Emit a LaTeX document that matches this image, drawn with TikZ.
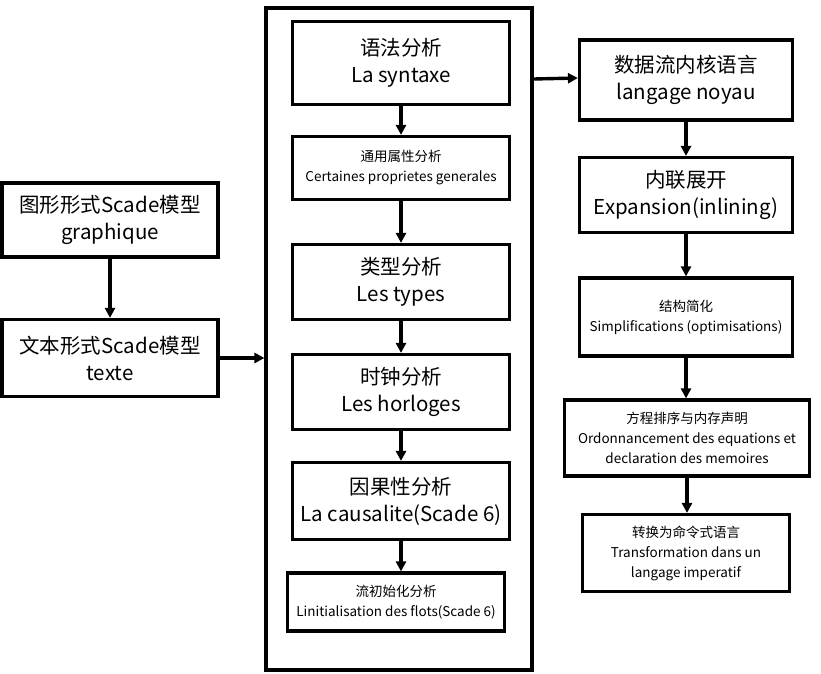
\documentclass[tikz,border=0pt]{standalone}
\usepackage{fontspec}
\setmainfont{Noto Sans CJK SC}
\usetikzlibrary{arrows.meta}
\tikzset{
 bx/.style={draw,line width=3.2pt,align=center,inner sep=0pt},
 big/.style={font=\fontsize{20.5}{27}\selectfont},
 sm/.style={font=\fontsize{13.5}{20}\selectfont},
 ar/.style={line width=3.4pt,-{Triangle[length=10pt,width=10pt]}}
}
\begin{document}
\begin{tikzpicture}[x=1pt,y=-1pt]
\useasboundingbox (0,0) rectangle (821,673);
\node[bx,big,minimum width=216,minimum height=74] (l1) at (110,220) {图形形式Scade模型\\graphique};
\node[bx,big,minimum width=216,minimum height=77] (l2) at (110,358) {文本形式Scade模型\\texte};
\node[bx,minimum width=266,minimum height=662] (c) at (399,339) {};
\node[bx,big,minimum width=217,minimum height=83] (s1) at (401,63) {语法分析\\La syntaxe};
\node[bx,sm,minimum width=217,minimum height=63] (s2) at (401,168) {通用属性分析\\Certaines proprietes generales};
\node[bx,big,minimum width=217,minimum height=75] (s3) at (401,282) {类型分析\\Les types};
\node[bx,big,minimum width=217,minimum height=75] (s4) at (401,392) {时钟分析\\Les horloges};
\node[bx,big,minimum width=217,minimum height=77] (s5) at (401,501) {因果性分析\\La causalite(Scade 6)};
\node[bx,sm,minimum width=217,minimum height=58] (s6) at (396,602) {流初始化分析\\Linitialisation des flots(Scade 6)};
\node[bx,big,minimum width=213,minimum height=80] (r1) at (686,80) {数据流内核语言\\langage noyau};
\node[bx,big,minimum width=213,minimum height=75] (r2) at (686,195) {内联展开\\Expansion(inlining)};
\node[bx,sm,minimum width=213,minimum height=78] (r3) at (686,317) {结构简化\\Simplifications (optimisations)};
\node[bx,sm,minimum width=245,minimum height=76] (r4) at (687,438) {方程排序与内存声明\\Ordonnancement des equations et\\declaration des memoires};
\node[bx,sm,minimum width=207,minimum height=77] (r5) at (686,553) {转换为命令式语言\\Transformation dans un\\langage imperatif};
\draw[ar] (l1) -- (l2);
\draw[ar] (l2.east) -- (c.west |- l2.east);
\foreach \a/\b in {s1/s2,s2/s3,s3/s4,s4/s5,s5/s6,r1/r2,r2/r3,r3/r4,r4/r5}
  \draw[ar] (\a.south) -- (\a.south |- \b.north);
\draw[ar] (c.east |- 0,79) -- (r1.west |- 0,78);
\end{tikzpicture}
\end{document}
